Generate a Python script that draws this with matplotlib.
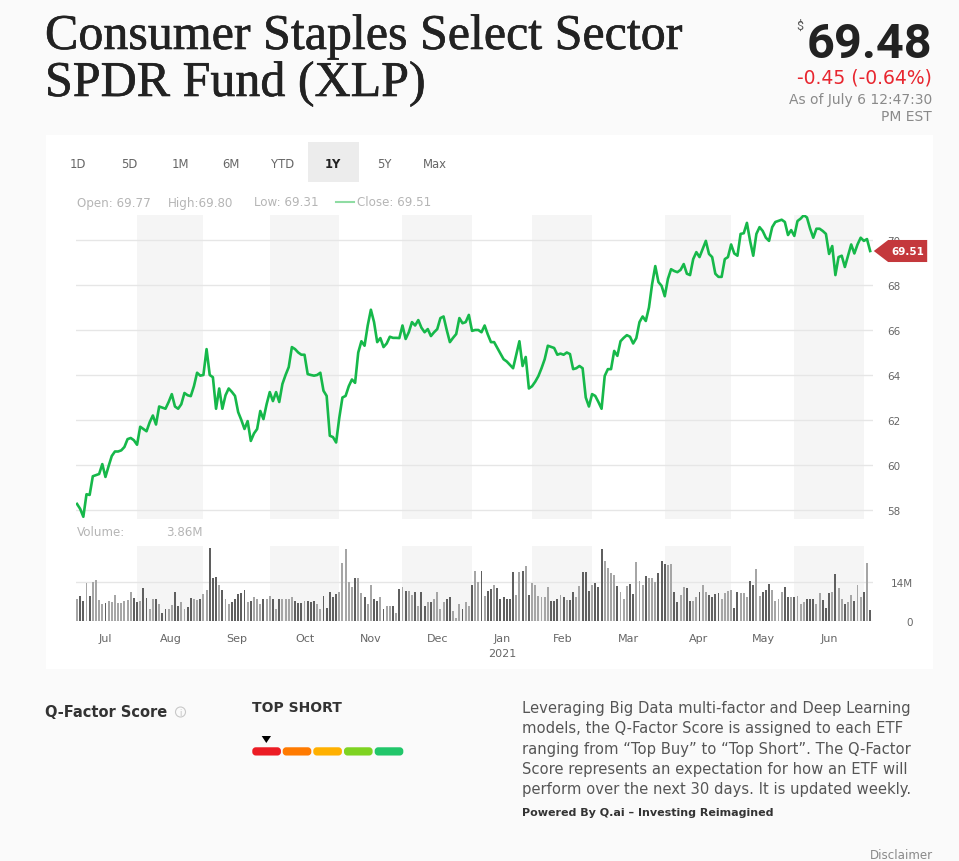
import numpy as np
import pandas as pd
import matplotlib
matplotlib.use("Agg")
import matplotlib.pyplot as plt
import matplotlib.patheffects as pe
from matplotlib.patches import Rectangle, Polygon, FancyBboxPatch, Circle
from matplotlib.transforms import blended_transform_factory, IdentityTransform

W, H = 959, 862

# Daily closes (USD), Jul 6 2020 .. Jul 2 2021
closes = [
    58.27, 58.05, 57.7, 58.7, 58.67, 59.5, 59.55, 59.6, 60.04, 59.47,
    59.95, 60.4, 60.6, 60.6, 60.65, 60.8, 61.15, 61.2, 61.1, 60.9,
    61.7, 61.6, 61.5, 61.9, 62.2, 61.8, 62.6, 62.55, 62.5, 62.8,
    63.15, 62.6, 62.5, 62.7, 63.2, 63.1, 63.06, 63.5, 64.1, 63.97,
    64.0, 65.15, 64.0, 63.9, 62.5, 63.4, 62.5, 63.1, 63.4, 63.25,
    63.07, 62.35, 62.0, 61.6, 61.95, 61.07, 61.4, 61.6, 62.4, 62.04,
    62.7, 63.24, 62.84, 63.24, 62.8, 63.6, 64.0, 64.35, 65.24, 65.15,
    65.0, 64.9, 64.9, 64.04, 64.0, 63.97, 64.0, 64.1, 63.3, 63.07,
    61.3, 61.24, 61.0, 62.1, 63.0, 63.07, 63.5, 63.8, 63.65, 65.0,
    65.5, 65.3, 66.2, 66.9, 66.35, 65.46, 65.64, 65.24, 65.4, 65.7,
    65.65, 65.65, 65.64, 66.2, 65.6, 65.9, 66.35, 66.2, 66.44, 66.1,
    65.9, 66.04, 65.73, 65.9, 66.04, 66.53, 66.6, 66.0, 65.46, 65.65,
    65.82, 66.53, 66.3, 66.35, 66.67, 65.96, 66.0, 66.0, 65.9, 66.2,
    65.8, 65.46, 65.46, 65.2, 64.95, 64.7, 64.6, 64.45, 64.3, 64.9,
    65.5, 64.4, 64.8, 63.4, 63.5, 63.7, 63.95, 64.3, 64.7, 65.3,
    65.25, 65.2, 64.9, 64.95, 64.9, 65.0, 64.93, 64.26, 64.3, 64.4,
    64.3, 63.0, 62.6, 63.15, 63.07, 62.8, 62.5, 63.96, 64.26, 64.26,
    65.07, 64.85, 65.5, 65.65, 65.77, 65.7, 65.4, 65.64, 66.35, 66.6,
    66.4, 67.0, 68.04, 68.84, 68.13, 67.96, 67.5, 68.27, 68.7, 68.62,
    68.57, 68.67, 68.93, 68.5, 68.44, 69.15, 69.46, 69.24, 69.6, 69.96,
    69.38, 69.24, 68.5, 68.36, 68.36, 69.15, 69.24, 69.8, 69.4, 69.3,
    70.27, 70.3, 70.76, 69.96, 69.3, 70.27, 70.57, 70.4, 70.1, 69.96,
    70.57, 70.8, 70.85, 70.9, 70.8, 70.22, 70.44, 70.18, 70.84, 70.95,
    71.1, 71.0, 70.5, 70.1, 70.5, 70.5, 70.4, 70.27, 69.38, 69.73,
    68.44, 69.24, 69.3, 68.8, 69.3, 69.8, 69.4, 69.8, 70.1, 69.96,
    70.04, 69.51,
]

# Daily volume, millions of shares
volumes = [
    7.7, 8.9, 7.1, 13.6, 8.9, 13.9, 14.6, 7.4, 6.2, 6.5,
    7.1, 6.8, 9.1, 6.5, 6.5, 7.1, 7.5, 10.3, 8.3, 6.8,
    7.1, 11.9, 8.3, 4.2, 7.9, 7.7, 6.2, 3.0, 4.4, 4.4,
    5.6, 10.3, 5.3, 6.8, 4.2, 5.1, 8.3, 7.7, 7.5, 8.0,
    9.5, 11.0, 26.1, 15.4, 15.8, 12.7, 11.0, 7.7, 5.9, 6.8,
    7.7, 9.5, 10.1, 11.0, 6.8, 7.1, 8.7, 7.7, 5.9, 7.7,
    7.9, 8.9, 7.7, 4.4, 7.7, 7.9, 7.9, 7.7, 8.4, 7.2,
    6.3, 6.3, 7.2, 7.2, 6.8, 7.2, 6.0, 4.4, 9.0, 4.8,
    10.4, 8.7, 9.6, 10.4, 20.7, 25.7, 13.8, 12.0, 15.2, 15.2,
    9.9, 8.4, 6.0, 12.8, 7.8, 7.2, 8.4, 4.2, 5.4, 5.4,
    5.4, 2.8, 11.4, 12.0, 10.8, 10.8, 9.2, 10.4, 5.4, 10.2,
    5.4, 6.6, 6.6, 8.0, 10.2, 4.2, 6.6, 8.0, 8.4, 3.6,
    1.2, 6.0, 4.4, 6.6, 5.4, 12.8, 17.9, 14.0, 17.9, 9.0,
    10.8, 11.4, 12.8, 11.6, 7.8, 8.4, 8.0, 8.0, 17.3, 9.2,
    17.6, 17.9, 19.5, 9.2, 13.5, 12.8, 9.0, 8.4, 8.7, 12.0,
    7.2, 7.2, 7.8, 9.2, 8.4, 7.5, 7.6, 10.2, 8.7, 12.3,
    17.3, 17.3, 10.8, 12.8, 13.5, 12.0,
    25.7, 21.5, 18.8, 17.1, 16.4, 12.3, 10.2, 8.0, 12.6, 13.2,
    9.5, 20.9, 14.4, 12.8, 15.9, 15.2, 15.2, 13.8, 17.1, 21.2,
    20.3, 20.0, 20.3, 10.4, 6.8, 9.2, 12.0, 11.6, 7.2, 7.2,
    8.5, 10.2, 12.8, 10.4, 9.2, 8.4, 9.6, 9.9, 8.0, 9.9,
    10.8, 11.1, 4.8, 10.2, 9.9, 9.9, 8.5, 14.4, 12.8, 18.5,
    9.0, 10.4, 11.1, 13.2, 11.1, 7.2, 7.8, 10.2, 12.0, 8.4,
    8.4, 8.4, 9.0, 6.0, 6.8, 8.0, 7.8, 7.8, 6.0, 9.9,
    7.5, 4.8, 9.9, 10.2, 16.7, 11.6, 8.0, 6.0, 6.8, 9.2,
    7.2, 12.8, 8.4, 10.5, 20.7, 3.86,
]

holidays = ["2020-09-07", "2020-11-26", "2020-12-25", "2021-01-01",
            "2021-01-18", "2021-02-15", "2021-04-02", "2021-05-31"]
price_ticks = [58, 60, 62, 64, 66, 68, 70]
tabs = ["1D", "5D", "1M", "6M", "YTD", "1Y", "5Y", "Max"]
last_close = 69.51

dates = pd.bdate_range("2020-07-06", "2021-07-02")
dates = dates[~dates.isin(pd.to_datetime(holidays))]
n = min(len(dates), len(closes), len(volumes))
dates = dates[:n]
closes = np.array(closes[:n])
volumes = np.array(volumes[:n])
x = np.arange(n)

GREEN = "#16b84a"
SANS = ["DejaVu Sans"]


def fx(px):
    return px / W


def fy(py):
    return 1 - py / H


fig = plt.figure(figsize=(W / 100, H / 100), dpi=100, facecolor="#fafafa")
plt.rcParams["font.family"] = SANS

# white chart card (behind the axes)
fig.patches.append(Rectangle((fx(46), fy(670)), fx(933) - fx(46), fy(136) - fy(670),
                             transform=fig.transFigure, facecolor="white",
                             edgecolor="none", zorder=-2))

# header
bold_fx = [pe.withStroke(linewidth=0.45, foreground="#222222")]
fig.text(fx(45), fy(50), "Consumer Staples Select Sector", family="Liberation Serif",
         fontsize=36, color="#222222", va="baseline", path_effects=bold_fx)
fig.text(fx(45), fy(97), "SPDR Fund (XLP)", family="Liberation Serif",
         fontsize=36, color="#222222", va="baseline", path_effects=bold_fx)
fig.text(fx(932), fy(58), "69.48", family="Roboto", fontsize=35, fontweight="semibold",
         color="#222222", ha="right", va="baseline")
fig.text(fx(796), fy(30), "$", family="Roboto", fontsize=9, color="#555555",
         ha="left", va="baseline")
fig.text(fx(932), fy(83), "-0.45 (-0.64%)", fontsize=13.5,
         color="#e8262f", ha="right", va="baseline")
fig.text(fx(932), fy(104), "As of July 6 12:47:30", fontsize=10,
         color="#8a8a8a", ha="right", va="baseline")
fig.text(fx(932), fy(121), "PM EST", fontsize=10,
         color="#8a8a8a", ha="right", va="baseline")

# range tabs
tab_x = [78, 129, 180, 231, 283, 333, 384, 435]
fig.patches.append(Rectangle((fx(308), fy(183)), fx(359) - fx(308), fy(143) - fy(183),
                             transform=fig.transFigure, facecolor="#ececec",
                             edgecolor="none", zorder=-1))
for t, tx in zip(tabs, tab_x):
    fig.text(fx(tx), fy(164), t, fontsize=8.4, ha="center", va="center",
             color="#222222" if t == "1Y" else "#666666",
             fontweight="bold" if t == "1Y" else "normal")

# info row
info_c = "#b5b5b5"
fig.text(fx(77), fy(203), "Open: 69.77", fontsize=8.6, color=info_c, va="center")
fig.text(fx(168), fy(203), "High:69.80", fontsize=8.6, color=info_c, va="center")
fig.text(fx(254), fy(203), "Low: 69.31", fontsize=8.6, color=info_c, va="center")
fig.lines.append(plt.Line2D([fx(336), fx(354)], [fy(203), fy(203)], color="#8fdca3",
                            lw=1.5, transform=fig.transFigure))
fig.text(fx(357), fy(203), "Close: 69.51", fontsize=8.6, color=info_c, va="center")
fig.text(fx(77), fy(533), "Volume:", fontsize=8.6, color=info_c, va="center")
fig.text(fx(166), fy(533), "3.86M", fontsize=8.6, color=info_c, va="center")

# month bands
months = pd.Series(x, index=dates).groupby(dates.to_period("M"))
month_first = [int(g.iloc[0]) for _, g in months]
month_last = [int(g.iloc[-1]) for _, g in months]
month_names = [p.strftime("%b") for p, _ in months]
month_years = [p.year for p, _ in months]

xlim = (-0.32, 251.9)

ax = fig.add_axes([fx(76), fy(520), fx(873) - fx(76), fy(216) - fy(520)])
ax_v = fig.add_axes([fx(76), fy(622), fx(873) - fx(76), fy(547) - fy(622)])

for a in (ax, ax_v):
    a.set_facecolor("none")
    for s in a.spines.values():
        s.set_visible(False)
    a.set_xlim(*xlim)
    for k in range(1, len(month_first), 2):
        a.axvspan(month_first[k] - 1, month_last[k], color="#f5f5f5", lw=0, zorder=0)

# price line
ax.set_ylim(57.6, 71.11)
for v in price_ticks:
    ax.axhline(v, color="#e6e6e6", lw=1, zorder=1)
ax.plot(x, closes, color=GREEN, lw=1.9, zorder=3, solid_joinstyle="round")
ax.set_xticks([])
ax.yaxis.tick_right()
ax.set_yticks(price_ticks)
ax.tick_params(axis="y", length=0, pad=10, labelsize=7.5, labelcolor="#666666")

# last price flag
bt = blended_transform_factory(ax.transAxes, ax.transData)
tip, left, right, hh = 1.001, 1.019, 1.068, 0.49
ax.add_patch(Polygon([(tip, last_close), (left, last_close + hh), (right, last_close + hh),
                      (right, last_close - hh), (left, last_close - hh)],
                     closed=True, transform=bt, facecolor="#c4383c", edgecolor="none",
                     clip_on=False, zorder=10))
ax.text((left + right) / 2, last_close, f"{last_close:.2f}", transform=bt, color="white",
        fontsize=7.5, fontweight="bold", ha="center", va="center", zorder=11, clip_on=False)

# volume bars
up = np.r_[True, closes[1:] >= closes[:-1]]
bar_colors = np.where(up, "#a6a6a6", "#5f5f5f")
ax_v.set_ylim(0, 26.7)
ax_v.axhline(14, color="#e6e6e6", lw=1, zorder=1)
ax_v.axhline(0, color="#e6e6e6", lw=1, zorder=1)
ax_v.bar(x, volumes, width=0.6, color=bar_colors, zorder=3)
ax_v.yaxis.tick_right()
ax_v.set_yticks([0, 14])
ax_v.set_yticklabels(["0", "14M"])
ax_v.tick_params(axis="y", length=0, pad=29, labelsize=7.5, labelcolor="#666666")
for lab in ax_v.get_yticklabels():
    lab.set_horizontalalignment("right")

mids = [(f + l) / 2 - 0.4 for f, l in zip(month_first, month_last)]
labels = []
for name, yr in zip(month_names, month_years):
    labels.append(f"{name}\n{yr}" if name == "Jan" else name)
keep = [i for i, (f, l) in enumerate(zip(month_first, month_last)) if l - f > 5]
ax_v.set_xticks([mids[i] for i in keep])
ax_v.set_xticklabels([labels[i] for i in keep], linespacing=1.55)
ax_v.tick_params(axis="x", length=0, pad=9, labelsize=8, labelcolor="#666666")

# Q-Factor section
pix = IdentityTransform()
fig.text(fx(45), fy(713), "Q-Factor Score", fontsize=10.5, fontweight="bold",
         color="#333333", va="center")
fig.patches.append(Circle((180.5, H - 713), 5, transform=pix, facecolor="none",
                          edgecolor="#c8c8c8", lw=0.8))
fig.text(fx(180.5), fy(713.5), "i", fontsize=6, color="#c0c0c0", ha="center", va="center")
fig.text(fx(252), fy(708), "TOP SHORT", fontsize=10, fontweight="bold",
         color="#333333", va="center")
fig.patches.append(Polygon([(261.7, H - 737), (271, H - 737), (266.3, H - 744)],
                           closed=True, transform=pix, facecolor="black", edgecolor="none"))
seg_x = [252.3, 282.7, 313.3, 344.0, 374.7]
seg_c = ["#ec1c24", "#ff7a00", "#ffb000", "#7ed321", "#21c66a"]
for sx, sc in zip(seg_x, seg_c):
    fig.patches.append(FancyBboxPatch((sx + 1.5, H - 755), 25.6, 5.2,
                                      boxstyle="round,pad=0,rounding_size=2",
                                      transform=pix, facecolor=sc, edgecolor=sc, lw=2.2,
                                      joinstyle="round"))

para = [
    "Leveraging Big Data multi-factor and Deep Learning",
    "models, the Q-Factor Score is assigned to each ETF",
    "ranging from \u201cTop Buy\u201d to \u201cTop Short\u201d. The Q-Factor",
    "Score represents an expectation for how an ETF will",
    "perform over the next 30 days. It is updated weekly.",
]
para_y = [709, 729, 750, 770, 790]
for line, ly in zip(para, para_y):
    fig.text(fx(522), fy(ly), line, fontsize=10.6, color="#555555", va="center")
fig.text(fx(522), fy(813), "Powered By Q.ai \u2013 Investing Reimagined", fontsize=8.0,
         fontweight="bold", color="#333333", va="center")
fig.text(fx(933), fy(856), "Disclaimer", fontsize=8.6, color="#8a8a8a",
         ha="right", va="center")

fig.savefig("out.png", dpi=100, facecolor=fig.get_facecolor())
